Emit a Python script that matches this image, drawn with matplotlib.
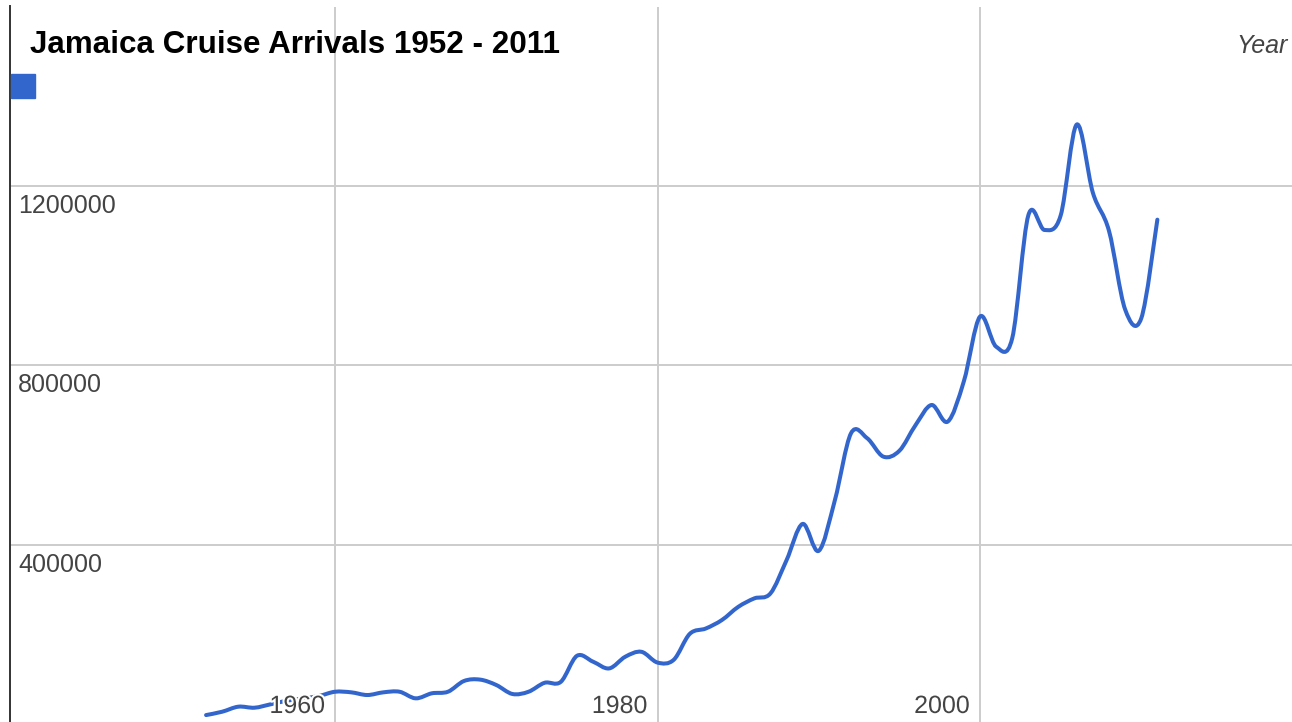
import matplotlib
matplotlib.use("Agg")
import matplotlib.pyplot as plt
import matplotlib.patheffects as pe
from matplotlib.path import Path
from matplotlib.patches import PathPatch, Rectangle

# data
years = list(range(1952, 2012))
arrivals = [
    21000, 28500, 39700, 37400, 45000, 53000, 58000, 63500,  # 1952-1959
    73000, 71700, 65700, 71700, 73000, 58300, 69500, 73000, 97000, 100000,  # 1960s
    88000, 68000, 73000, 93000, 95000, 153000, 140000, 125000, 151000, 162000,  # 1970s
    138000, 144000, 202000, 214000, 233000, 262000, 281000, 292000, 366000, 447000,  # 1980s
    387000, 500000, 649000, 638000, 597000, 610000, 667000, 712000, 675000, 765000,  # 1990s
    909000, 842000, 861000, 1135000, 1102000, 1134000, 1337000, 1185000, 1100000, 925000,  # 2000s
    905000, 1125000,  # 2010-2011
]
x_ticks = [1960, 1980, 2000]
y_ticks = [400000, 800000, 1200000]
y_top = 1600000
title = "Jamaica Cruise Arrivals 1952 - 2011"

W, H = 1292, 722
BLUE = "#3366cc"
GRID = "#cccccc"
LABEL = "#444444"

plt.rcParams['font.family'] = ['Liberation Sans', 'DejaVu Sans']

fig = plt.figure(figsize=(W / 100, H / 100), dpi=100)
ax = fig.add_axes([10 / W, -2.5 / H, 1282 / W, 718 / H])
ax.set_xlim(1939.84, 2019.35)
ax.set_ylim(0, y_top)
ax.set_xticks([])
ax.set_yticks([])
for s in ["top", "right", "bottom"]:
    ax.spines[s].set_visible(False)
ax.spines["left"].set_color("#333333")
ax.spines["left"].set_linewidth(1.4)

for xv in x_ticks:
    ax.axvline(xv, color=GRID, lw=1.4, zorder=0)
for yv in y_ticks + [y_top]:
    ax.axhline(yv, color=GRID, lw=1.4, zorder=0)

# smooth curve through the points (Catmull-Rom -> cubic bezier)
pts = list(zip(years, arrivals))
verts = [pts[0]]
codes = [Path.MOVETO]
n = len(pts)
for i in range(n - 1):
    p0 = pts[max(i - 1, 0)]
    p1 = pts[i]
    p2 = pts[i + 1]
    p3 = pts[min(i + 2, n - 1)]
    c1 = (p1[0] + (p2[0] - p0[0]) / 6, p1[1] + (p2[1] - p0[1]) / 6)
    c2 = (p2[0] - (p3[0] - p1[0]) / 6, p2[1] - (p3[1] - p1[1]) / 6)
    verts += [c1, c2, p2]
    codes += [Path.CURVE4] * 3
ax.add_patch(PathPatch(Path(verts, codes), fill=False, edgecolor=BLUE,
                       lw=2.9, capstyle="round", joinstyle="round", zorder=2))

halo = [pe.withStroke(linewidth=3, foreground="white")]
for yv in y_ticks:
    ax.annotate(str(yv), xy=(0, yv), xycoords=("axes fraction", "data"),
                xytext=(8, -27), textcoords="offset pixels", ha="left",
                va="baseline", fontsize=18, color=LABEL, zorder=3)
for xv in x_ticks:
    ax.annotate(str(xv), xy=(xv, 0), xycoords="data", xytext=(-10, 11.5),
                textcoords="offset pixels", ha="right", va="baseline",
                fontsize=18, color=LABEL, zorder=3, path_effects=halo)

fig.text(30 / W, 1 - 53 / H, title, fontsize=22.6, fontweight="bold",
         color="black", ha="left", va="baseline")
fig.text(1288 / W, 1 - 53 / H, "Year", fontsize=18, style="italic",
         color=LABEL, ha="right", va="baseline")
fig.patches.append(Rectangle((11 / W, 1 - 98 / H), 24 / W, 24 / H,
                             transform=fig.transFigure, color=BLUE, figure=fig))

fig.savefig("out.png", dpi=100)
